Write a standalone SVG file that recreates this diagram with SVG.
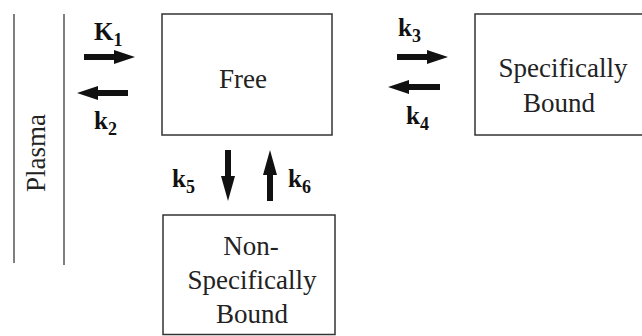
<svg xmlns="http://www.w3.org/2000/svg" width="642" height="336" viewBox="0 0 642 336">
<style>
.box{fill:#fff;stroke:#333;stroke-width:1.5}
.wall{stroke:#555;stroke-width:1.5}
.t{font-size:27px;fill:#222;text-anchor:middle}
.k{font-size:25px;font-weight:bold;fill:#111}
.k tspan{font-size:18px}
.arr{fill:#111}
</style>
<rect width="642" height="336" fill="#fff"/>
<g font-family="'Liberation Serif', 'DejaVu Serif', serif">
<g id="plasma">
<line class="wall" x1="14" y1="14" x2="14" y2="263"/>
<line class="wall" x1="64" y1="14" x2="64" y2="265"/>
<text class="t" transform="translate(45,153) rotate(-90)">Plasma</text>
</g>
<g id="free">
<rect class="box" x="162" y="14" width="170" height="121"/>
<text class="t" x="243" y="88">Free</text>
</g>
<g id="specific">
<rect class="box" x="475" y="14" width="180" height="121"/>
<text class="t" x="563" y="77">Specifically</text>
<text class="t" x="559" y="112">Bound</text>
</g>
<g id="nonspecific">
<rect class="box" x="163" y="215" width="172" height="119.5"/>
<text class="t" x="251" y="255">Non-</text>
<text class="t" x="252" y="289">Specifically</text>
<text class="t" x="252" y="323">Bound</text>
</g>
<g id="connectors">
<polygon class="arr" points="84,54 114,54 114,50 135,57 114,64 114,60 84,60"/>
<polygon class="arr" points="128,90 98,90 98,86 77,93 98,100 98,96 128,96"/>
<polygon class="arr" points="397,54 427,54 427,50 448,57 427,64 427,60 397,60"/>
<polygon class="arr" points="440,84 409,84 409,80 388,87 409,94 409,90 440,90"/>
<polygon class="arr" points="225,150 231,150 231,176 235,176 228,201 221,176 225,176"/>
<polygon class="arr" points="267,201 273,201 273,175 277,175 270,150 263,175 267,175"/>
</g>
<g id="labels">
<text class="k" x="94" y="40">K<tspan dy="6">1</tspan></text>
<text class="k" x="94" y="129">k<tspan dy="6">2</tspan></text>
<text class="k" x="398" y="36">k<tspan dy="6">3</tspan></text>
<text class="k" x="406" y="124">k<tspan dy="6">4</tspan></text>
<text class="k" x="172" y="187">k<tspan dy="6">5</tspan></text>
<text class="k" x="288" y="187">k<tspan dy="6">6</tspan></text>
</g>
</g>
</svg>
